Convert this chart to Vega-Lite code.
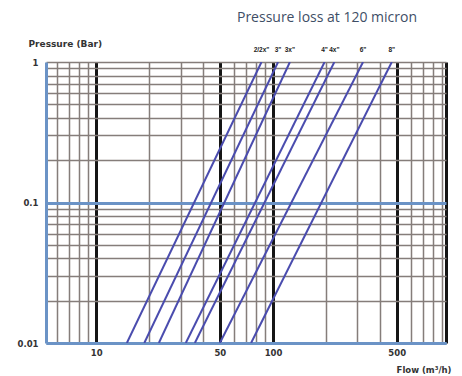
{
  "$schema": "https://vega.github.io/schema/vega-lite/v6.json",
  "width": 400,
  "height": 281,
  "autosize": "none",
  "padding": {"left": 46, "top": 62, "right": 16, "bottom": 33},
  "background": "white",
  "config": {"view": {"stroke": null}, "font": "DejaVu Sans"},
  "title": {"text": "Pressure loss at 120 micron", "anchor": "middle", "dx": 81, "offset": 14, "fontSize": 14, "font": "Open Sans", "fontWeight": "normal", "color": "#3e4e66"},
  "data": {"values": [
    {"size": "2/2x\"", "flow": 14.9, "pressure": 0.01},
    {"size": "2/2x\"", "flow": 86, "pressure": 1},
    {"size": "3\"", "flow": 18.7, "pressure": 0.01},
    {"size": "3\"", "flow": 106.7, "pressure": 1},
    {"size": "3x\"", "flow": 22.6, "pressure": 0.01},
    {"size": "3x\"", "flow": 124.5, "pressure": 1},
    {"size": "4\"", "flow": 32.1, "pressure": 0.01},
    {"size": "4\"", "flow": 195.5, "pressure": 1},
    {"size": "4x\"", "flow": 36.1, "pressure": 0.01},
    {"size": "4x\"", "flow": 222, "pressure": 1},
    {"size": "6\"", "flow": 50, "pressure": 0.01},
    {"size": "6\"", "flow": 322.6, "pressure": 1},
    {"size": "8\"", "flow": 75.1, "pressure": 0.01},
    {"size": "8\"", "flow": 469, "pressure": 1}
  ]},
  "layer": [
    {
      "mark": {"type": "line", "color": "#4a4cae", "strokeWidth": 2, "clip": true},
      "encoding": {
        "x": {
          "field": "flow", "type": "quantitative",
          "scale": {"type": "log", "domain": [5.2, 950], "nice": false},
          "axis": {
            "values": [6, 7, 8, 9, 10, 20, 30, 40, 50, 60, 70, 80, 90, 100, 200, 300, 400, 500, 600, 700, 800, 900, 950],
            "grid": true,
            "gridColor": {"condition": {"test": "indexof([10,50,100,500,950], datum.value) >= 0", "value": "#151515"}, "value": "#857d7a"},
            "gridWidth": {"condition": {"test": "indexof([10,50,100,500,950], datum.value) >= 0", "value": 3}, "value": 1.5},
            "labelExpr": "indexof([10,50,100,500], datum.value) >= 0 ? '' + datum.value : ''",
            "labelOverlap": false,
            "labelFlush": false,
            "ticks": false,
            "domainColor": "#6b93c6",
            "domainWidth": 3,
            "labelFont": "DejaVu Sans",
            "labelFontWeight": "bold",
            "labelFontSize": 8.5,
            "labelColor": "#333",
            "labelPadding": 5,
            "title": "Flow (m³/h)",
            "titleFont": "DejaVu Sans",
            "titleFontSize": 8.5,
            "titleFontWeight": "bold",
            "titleColor": "#333",
            "titleAlign": "right",
            "titleAnchor": "end",
            "titleBaseline": "top",
            "titleX": 405,
            "titleY": 22
          }
        },
        "y": {
          "field": "pressure", "type": "quantitative",
          "scale": {"type": "log", "domain": [0.01, 1], "nice": false},
          "axis": {
            "values": [0.01, 0.02, 0.03, 0.04, 0.05, 0.06, 0.07, 0.08, 0.09, 0.1, 0.2, 0.3, 0.4, 0.5, 0.6, 0.7, 0.8, 0.9, 1],
            "grid": true,
            "gridColor": {"condition": {"test": "datum.value == 0.1 || datum.value == 0.01", "value": "#6b93c6"}, "value": "#857d7a"},
            "gridWidth": {"condition": {"test": "datum.value == 0.1 || datum.value == 0.01", "value": 3}, "value": 1.5},
            "labelExpr": "indexof([0.01,0.1,1], datum.value) >= 0 ? '' + datum.value : ''",
            "labelOverlap": false,
            "labelFlush": false,
            "ticks": false,
            "domainColor": "#6b93c6",
            "domainWidth": 3,
            "labelFont": "DejaVu Sans",
            "labelFontWeight": "bold",
            "labelFontSize": 8.5,
            "labelColor": "#333",
            "labelPadding": 8,
            "title": "Pressure (Bar)",
            "titleFont": "DejaVu Sans",
            "titleAngle": 0,
            "titleAlign": "left",
            "titleBaseline": "middle",
            "titleX": -18,
            "titleY": -19,
            "titleFontSize": 9,
            "titleFontWeight": "bold",
            "titleColor": "#333"
          }
        },
        "detail": {"field": "size"}
      }
    },
    {
      "transform": [{"filter": "datum.pressure == 1"}],
      "mark": {"type": "text", "dy": -12, "fontSize": 6.5, "font": "Liberation Sans", "fontWeight": "bold", "color": "#222"},
      "encoding": {
        "x": {"field": "flow", "type": "quantitative"},
        "y": {"field": "pressure", "type": "quantitative"},
        "text": {"field": "size"}
      }
    }
  ]
}
